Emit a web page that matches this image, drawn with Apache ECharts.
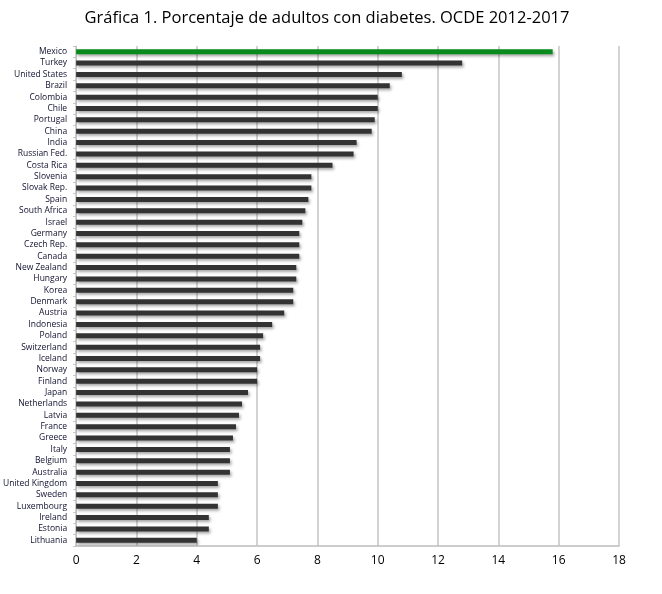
<!DOCTYPE html>
<html>
<head>
<meta charset="utf-8">
<script src="https://cdn.jsdelivr.net/npm/echarts@6/dist/echarts.min.js"></script>
<style>
  html, body { margin: 0; padding: 0; background: #fff; }
  #chart { width: 662px; height: 594px; }
</style>
</head>
<body>
<div id="chart"></div>
<script>
const countries = [
  "Mexico", "Turkey", "United States", "Brazil", "Colombia", "Chile",
  "Portugal", "China", "India", "Russian Fed.", "Costa Rica", "Slovenia",
  "Slovak Rep.", "Spain", "South Africa", "Israel", "Germany", "Czech Rep.",
  "Canada", "New Zealand", "Hungary", "Korea", "Denmark", "Austria",
  "Indonesia", "Poland", "Switzerland", "Iceland", "Norway", "Finland",
  "Japan", "Netherlands", "Latvia", "France", "Greece", "Italy",
  "Belgium", "Australia", "United Kingdom", "Sweden", "Luxembourg",
  "Ireland", "Estonia", "Lithuania"
];
const diabetes = [
  15.8, 12.8, 10.8, 10.4, 10.0, 10.0,
  9.9, 9.8, 9.3, 9.2, 8.5, 7.8,
  7.8, 7.7, 7.6, 7.5, 7.4, 7.4,
  7.4, 7.3, 7.3, 7.2, 7.2, 6.9,
  6.5, 6.2, 6.1, 6.1, 6.0, 6.0,
  5.7, 5.5, 5.4, 5.3, 5.2, 5.1,
  5.1, 5.1, 4.7, 4.7, 4.7,
  4.4, 4.4, 4.0
];
const highlight = "Mexico";

const chart = echarts.init(document.getElementById("chart"));

const option = {
  animation: false,
  title: {
    text: "Gráfica 1. Porcentaje de adultos con diabetes. OCDE 2012-2017",
    left: 322,
    top: 5,
    textAlign: "center",
    textStyle: {
      fontFamily: "Open Sans",
      fontSize: 16.5,
      fontWeight: "normal",
      color: "#000"
    }
  },
  grid: {
    left: 74,
    right: 43,
    top: 46,
    bottom: 48
  },
  xAxis: {
    type: "value",
    min: 0,
    max: 18,
    interval: 2,
    axisLine: { show: true, lineStyle: { color: "#bdbdbd", width: 1.5 } },
    axisTick: { show: false },
    axisLabel: {
      color: "#000",
      fontFamily: "Open Sans",
      fontSize: 12,
      margin: 9
    },
    splitLine: { show: true, lineStyle: { color: "#c4c4c4", width: 1.5 } }
  },
  yAxis: {
    type: "category",
    inverse: true,
    data: countries,
    axisLine: { show: true, lineStyle: { color: "#c4c4c4", width: 1 } },
    axisTick: { show: true, length: 3, lineStyle: { color: "#c4c4c4" } },
    axisLabel: {
      color: "#10102e",
      fontFamily: "Open Sans",
      fontSize: 8.5,
      margin: 9,
      interval: 0
    }
  },
  series: [
    {
      type: "bar",
      data: diabetes.map((v, i) => ({
        value: v,
        itemStyle: countries[i] === highlight ? { color: "#098b1c" } : undefined
      })),
      barWidth: 5,
      itemStyle: {
        color: "#333333",
        shadowColor: "rgba(0,0,0,0.35)",
        shadowBlur: 3,
        shadowOffsetX: 1.5,
        shadowOffsetY: 2
      }
    }
  ]
};

chart.setOption(option);
</script>
</body>
</html>
